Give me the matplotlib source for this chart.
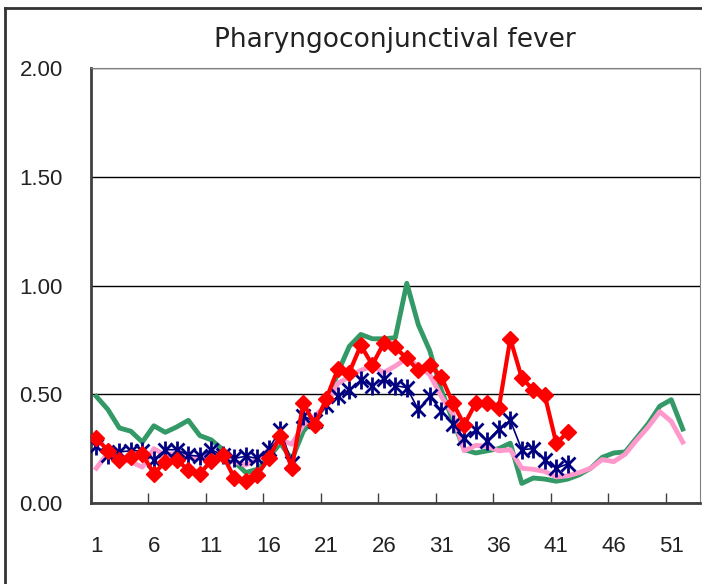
import numpy as np
import matplotlib
matplotlib.use("Agg")
import matplotlib.pyplot as plt
from matplotlib.lines import Line2D

plt.rcParams['font.family'] = ['Liberation Sans', 'DejaVu Sans']

weeks = np.arange(1, 53)

# current season (red diamonds), weeks 1-42
red = [0.30, 0.24, 0.20, 0.21, 0.225, 0.135, 0.19, 0.20, 0.15, 0.135,
       0.195, 0.22, 0.115, 0.10, 0.13, 0.205, 0.31, 0.16, 0.46, 0.36,
       0.48, 0.615, 0.60, 0.725, 0.635, 0.735, 0.715, 0.665, 0.61, 0.635,
       0.58, 0.46, 0.36, 0.46, 0.46, 0.435, 0.755, 0.575, 0.52, 0.495,
       0.275, 0.325]

# previous season (navy asterisks), weeks 1-42
navy = [0.26, 0.22, 0.235, 0.24, 0.24, 0.20, 0.245, 0.245, 0.22, 0.215,
        0.245, 0.22, 0.205, 0.215, 0.205, 0.25, 0.335, 0.185, 0.40, 0.375,
        0.45, 0.49, 0.52, 0.565, 0.54, 0.57, 0.54, 0.53, 0.43, 0.49,
        0.425, 0.365, 0.30, 0.335, 0.285, 0.34, 0.38, 0.245, 0.25, 0.20,
        0.16, 0.18]

# green line, weeks 1-52
green = [0.49, 0.43, 0.345, 0.33, 0.28, 0.355, 0.325, 0.35, 0.38, 0.31,
         0.29, 0.245, 0.19, 0.14, 0.155, 0.21, 0.275, 0.20, 0.33, 0.39,
         0.45, 0.60, 0.72, 0.775, 0.755, 0.755, 0.76, 1.01, 0.82, 0.70,
         0.52, 0.38, 0.245, 0.23, 0.24, 0.25, 0.275, 0.09, 0.115, 0.11,
         0.10, 0.11, 0.13, 0.16, 0.21, 0.23, 0.235, 0.30, 0.365, 0.445,
         0.475, 0.34]

# pink line, weeks 1-52
pink = [0.16, 0.23, 0.20, 0.19, 0.165, 0.25, 0.22, 0.23, 0.21, 0.205,
        0.22, 0.20, 0.19, 0.175, 0.20, 0.245, 0.29, 0.27, 0.36, 0.40,
        0.45, 0.55, 0.58, 0.61, 0.63, 0.60, 0.63, 0.665, 0.63, 0.59,
        0.49, 0.41, 0.24, 0.265, 0.26, 0.24, 0.245, 0.16, 0.155, 0.145,
        0.12, 0.125, 0.14, 0.16, 0.20, 0.19, 0.225, 0.29, 0.35, 0.42,
        0.375, 0.28]

xlabels = [1, 6, 11, 16, 21, 26, 31, 36, 41, 46, 51]
yvals = [0, 0.5, 1.0, 1.5, 2.0]

fig = plt.figure(figsize=(7.02, 5.84), dpi=100)
ax = fig.add_axes([90.6/702, 1-503/584, (700-90.6)/702, (503-68)/584])

ax.plot(weeks, green, color="#339966", lw=3.5, zorder=3)
ax.plot(weeks, pink, color="#FF99CC", lw=3.5, zorder=4)
w42 = weeks[:len(navy)]
ax.plot(w42, navy, color="#000080", lw=1.2, marker="x", ms=9.5, mew=2, zorder=5)
ax.plot(w42, navy, color="#000080", lw=0, marker="|", ms=12.5, mew=2, zorder=5)
ax.plot(weeks[:len(red)], red, color="#FF0000", lw=3, marker="D", ms=8.5,
        mec="#FF0000", mfc="#FF0000", zorder=6)

ax.set_xlim(0.5, 53.5)
ax.set_ylim(0, 2)
ax.set_yticks(yvals)
ax.set_yticklabels(["%.2f" % v for v in yvals], fontsize=16, color="#222222")
ax.set_xticks(xlabels)
ax.set_xticklabels([str(v) for v in xlabels], fontsize=16, color="#222222")
ax.set_xticks(np.arange(0.5, 51, 5), minor=True)
ax.tick_params(axis="x", which="major", length=0, pad=24)
ax.tick_params(axis="x", which="minor", direction="in", length=7, width=1, color="#404040")
ax.tick_params(axis="y", length=0, pad=20)

ax.grid(axis="y", color="black", lw=1)
ax.set_axisbelow(True)
ax.spines["left"].set_color("#404040")
ax.spines["left"].set_linewidth(2)
ax.spines["bottom"].set_color("#404040")
ax.spines["bottom"].set_linewidth(2)
ax.spines["top"].set_color("#808080")
ax.spines["right"].set_color("#808080")

ax.set_title("Pharyngoconjunctival fever", fontsize=19, pad=15,
             family="DejaVu Sans", color="#222222")

# chart area border
fig.add_artist(Line2D([5/702, 5/702], [0, 1-8/584], color="#333333", lw=2))
fig.add_artist(Line2D([5/702, 1], [1-8/584, 1-8/584], color="#333333", lw=2))

fig.savefig("out.png", dpi=100)
